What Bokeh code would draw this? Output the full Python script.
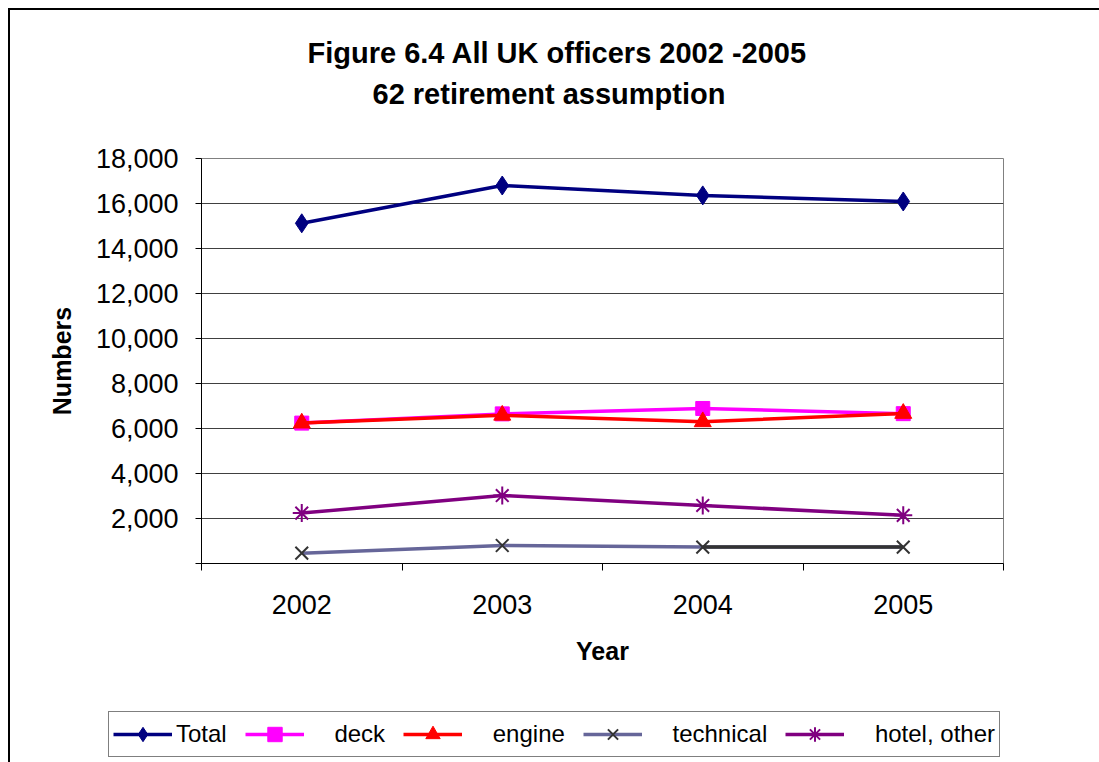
from bokeh.plotting import figure
from bokeh.layouts import column
from bokeh.models import (Range1d, FixedTicker, NumeralTickFormatter, Legend, LegendItem, Title)
from bokeh.embed import file_html
from bokeh.resources import INLINE

years = [2002, 2003, 2004, 2005]
total = [15120, 16800, 16360, 16090]
deck = [6240, 6650, 6890, 6660]
engine = [6240, 6590, 6300, 6670]
technical = [460, 800, 730, 730]
hotel = [2240, 3020, 2580, 2140]
y_ticks = [0, 2000, 4000, 6000, 8000, 10000, 12000, 14000, 16000, 18000]

FONT = "Liberation Sans"
SP = "\u00a0" * 4

p = figure(frame_width=802, frame_height=405,
           min_border_left=191, min_border_right=96, min_border_top=148, min_border_bottom=140,
           x_range=Range1d(years[0] - 0.5, years[-1] + 0.5),
           y_range=Range1d(y_ticks[0], y_ticks[-1]),
           output_backend="svg", toolbar_location=None, title=None)
p.margin = (0, 0, 0, 0)

p.background_fill_color = "white"
p.border_fill_color = "white"
p.outline_line_color = "#808080"
p.outline_line_width = 1

# titles
sub = Title(text="62 retirement assumption", align="left", text_font=FONT, text_color="black",
            text_font_size="29px", text_font_style="bold", standoff=97, offset=171)
main = Title(text="Figure 6.4 All UK officers 2002 -2005", align="left", text_font=FONT,
             text_color="black", text_font_size="29px", text_font_style="bold",
             standoff=-83, offset=106)
p.add_layout(sub, "above")
p.add_layout(main, "above")

# axes
xa = p.xaxis[0]
xa.ticker = FixedTicker(ticks=years, minor_ticks=[y - 0.5 for y in years] + [years[-1] + 0.5])
xa.major_tick_out = 0
xa.major_tick_in = 0
xa.minor_tick_out = 7
xa.minor_tick_in = 0
xa.minor_tick_line_color = "black"
xa.axis_line_color = "black"
xa.major_label_text_font = FONT
xa.major_label_text_font_size = "27px"
xa.major_label_text_color = "black"
xa.major_label_standoff = 24
xa.axis_label = "Year"
xa.axis_label_text_font = FONT
xa.axis_label_text_font_size = "25px"
xa.axis_label_text_font_style = "bold"
xa.axis_label_text_color = "black"
xa.axis_label_standoff = 20

ya = p.yaxis[0]
ya.ticker = FixedTicker(ticks=y_ticks)
ya.formatter = NumeralTickFormatter(format="0,0")
ya.major_label_overrides = {0: ""}
ya.major_tick_out = 6
ya.major_tick_in = 0
ya.minor_tick_out = 0
ya.minor_tick_in = 0
ya.major_tick_line_color = "black"
ya.axis_line_color = "black"
ya.major_label_text_font = FONT
ya.major_label_text_font_size = "27px"
ya.major_label_text_color = "black"
ya.major_label_standoff = 17
ya.axis_label = "Numbers"
ya.axis_label_text_font = FONT
ya.axis_label_text_font_size = "25px"
ya.axis_label_text_font_style = "bold"
ya.axis_label_text_color = "black"
ya.axis_label_standoff = 17

p.xgrid.visible = False
p.ygrid.grid_line_color = "#404040"
p.ygrid.grid_line_width = 1

LW = 3.5
series = [
    ("Total", total, "#000080", dict(marker="diamond", size=19, fill_color="#000080", line_color="#000080")),
    (SP + "deck", deck, "#FF00FF", dict(marker="square", size=14, fill_color="#FF00FF", line_color="#FF00FF")),
    (SP + "engine", engine, "#FF0000", dict(marker="triangle", size=17, fill_color="#FF0000", line_color="#FF0000")),
    (SP + "technical", technical, "#666699", dict(marker="x", size=18, line_color="#333333", line_width=2)),
    (SP + "hotel, other", hotel, "#800080", dict(marker="asterisk", size=18, line_color="#800080", line_width=2)),
]

for label, vals, col, mk in series:
    p.line(years, vals, line_color=col, line_width=LW)
    if label.endswith("technical"):
        p.line(years[2:], vals[2:], line_color="#333333", line_width=LW)
    p.scatter(years, vals, **mk)

# legend strip below the chart (its renderers lie outside its visible ranges)
lf = figure(width=1089, height=59, min_border=0,
            x_range=Range1d(0, 1), y_range=Range1d(0, 1),
            x_axis_type=None, y_axis_type=None,
            output_backend="svg", toolbar_location=None, title=None)
lf.margin = (0, 0, 0, 0)
lf.outline_line_color = None
lf.background_fill_color = "white"
lf.border_fill_color = "white"
lf.xgrid.visible = False
lf.ygrid.visible = False

legend_x = -97
if "frame_align" in lf.properties():
    lf.frame_align = False
    p.frame_align = False
    legend_x = 98

items = []
for label, vals, col, mk in series:
    l = lf.line(years, vals, line_color=col, line_width=LW)
    s = lf.scatter(years, vals, **mk)
    items.append(LegendItem(label=label, renderers=[l, s]))

legend = Legend(items=items, orientation="horizontal", location=(legend_x, 5),
                label_text_font=FONT, label_text_font_size="24px", label_text_color="black",
                glyph_width=59, glyph_height=36, label_standoff=4, spacing=18,
                padding=4, margin=0, border_line_color="black", border_line_width=1,
                background_fill_color="white", background_fill_alpha=1.0)
lf.add_layout(legend, "center")

page = column(p, lf, spacing=0)
page.margin = (0, 0, 0, 0)
page.styles = {"margin-left": "8px", "margin-top": "8px",
               "border-left": "2px solid #000", "border-top": "2px solid #000"}

open("out.html", "w").write(file_html(page, INLINE))
